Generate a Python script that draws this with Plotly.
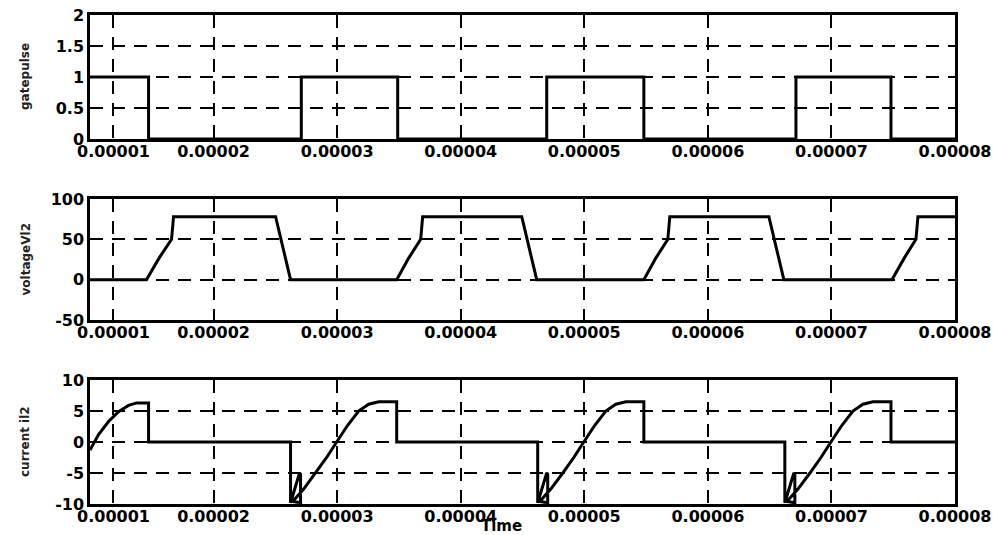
import plotly.graph_objects as go

T_SCALE = 1e-5  # time values below are in units of 1e-5 s

# ---- gate pulse ----
gate_t = [1.0, 1.474, 1.474, 2.71, 2.71, 3.49, 3.49, 4.696, 4.696, 5.482, 5.482,
          6.713, 6.713, 7.482, 7.482, 8.0]
gate_v = [1, 1, 0, 0, 1, 1, 0, 0, 1, 1, 0, 0, 1, 1, 0, 0]

# ---- voltage Vl2 ----
volt_t = [1.0, 1.457, 1.56, 1.66, 1.676, 2.502, 2.623, 3.482, 3.58, 3.676, 3.692,
          4.494, 4.615, 5.482, 5.58, 5.676, 5.692, 6.494, 6.615, 7.49, 7.59,
          7.684, 7.70, 8.0]
volt_v = [0, 0, 27, 50, 78, 78, 0, 0, 27, 50, 78, 78, 0, 0, 27, 50, 78, 78, 0, 0,
          27, 50, 78, 78]

# ---- current il2 ----
curr_t = [1.0, 1.069, 1.150, 1.231, 1.312, 1.377, 1.474, 1.474,
          2.623, 2.623, 2.696, 2.704, 2.704, 2.640, 2.729, 2.826, 2.915, 2.996,
          3.085, 3.174, 3.255, 3.336, 3.482, 3.482,
          4.623, 4.623, 4.696, 4.704, 4.704, 4.640, 4.729, 4.826, 4.915, 4.996,
          5.085, 5.174, 5.255, 5.336, 5.482, 5.482,
          6.623, 6.623, 6.696, 6.704, 6.704, 6.640, 6.729, 6.826, 6.915, 6.996,
          7.085, 7.174, 7.255, 7.336, 7.482, 7.482, 8.0]
curr_v = [-1.3, 1.2, 3.3, 4.9, 5.9, 6.3, 6.3, 0,
          0, -9.8, -5.0, -5.2, -9.8, -9.6, -7.6, -5.0, -2.5, 0.0,
          2.7, 5.0, 6.1, 6.5, 6.5, 0,
          0, -9.8, -5.0, -5.2, -9.8, -9.6, -7.6, -5.0, -2.5, 0.0,
          2.7, 5.0, 6.1, 6.5, 6.5, 0,
          0, -9.8, -5.0, -5.2, -9.8, -9.6, -7.6, -5.0, -2.5, 0.0,
          2.7, 5.0, 6.1, 6.5, 6.5, 0, 0]

x_tick_pos = [1.19, 2, 3, 4, 5, 6, 7, 8]
x_tick_text = ["0.00001", "0.00002", "0.00003", "0.00004", "0.00005", "0.00006",
               "0.00007", "0.00008"]

panels = [
    dict(t=gate_t, v=gate_v, rng=[0, 2], tv=[0, 0.5, 1, 1.5, 2],
         tt=["0", "0.5", "1", "1.5", "2"], title="gatepulse"),
    dict(t=volt_t, v=volt_v, rng=[-50, 100], tv=[-50, 0, 50, 100],
         tt=["-50", "0", "50", "100"], title="voltageVl2"),
    dict(t=curr_t, v=curr_v, rng=[-10, 10], tv=[-10, -5, 0, 5, 10],
         tt=["-10", "-5", "0", "5", "10"], title="current il2"),
]

W, H = 993, 535
y_domains_px = [(15, 139), (199, 320), (380, 504)]
x_dom = [90 / W, 955 / W]

fig = go.Figure()
tickfont = dict(family="DejaVu Sans", size=16, color="black", weight="bold")

for i, p in enumerate(panels):
    n = i + 1
    xa = "x" if n == 1 else f"x{n}"
    ya = "y" if n == 1 else f"y{n}"
    fig.add_trace(go.Scatter(
        x=[t * T_SCALE for t in p["t"]], y=p["v"], mode="lines",
        line=dict(color="black", width=3), xaxis=xa, yaxis=ya,
        showlegend=False, hoverinfo="skip"))
    top, bot = y_domains_px[i]
    ydom = [1 - bot / H, 1 - top / H]
    axkey = "" if n == 1 else str(n)
    fig.layout["xaxis" + axkey] = dict(
        domain=x_dom, range=[1e-5, 8e-5], anchor=ya, automargin=False,
        tickvals=[v * T_SCALE for v in x_tick_pos], ticktext=x_tick_text,
        tickfont=tickfont, ticks="", ticklabelstandoff=-4, showline=True,
        mirror=True, linecolor="black", linewidth=2.5, showgrid=True,
        gridcolor="black", gridwidth=2, griddash="13px,9px", zeroline=False)
    fig.layout["yaxis" + axkey] = dict(
        domain=ydom, range=p["rng"], anchor=xa, automargin=False,
        tickvals=p["tv"],
        ticktext=p["tt"], tickfont=tickfont, ticks="", showline=True,
        mirror=True, linecolor="black", linewidth=2.5, showgrid=True,
        gridcolor="black", gridwidth=2, griddash="13px,9px", zeroline=False)
    fig.add_annotation(
        text=p["title"], x=25 / W, y=1 - ((top + bot) / 2) / H, xref="paper",
        yref="paper", textangle=-90, showarrow=False, xanchor="center",
        yanchor="middle",
        font=dict(family="DejaVu Sans", size=12, color="#222", weight="bold"))

fig.add_annotation(text="Time", x=501 / W, y=1 - 526 / H, xref="paper",
                   yref="paper", showarrow=False, xanchor="center",
                   yanchor="middle",
                   font=dict(family="DejaVu Sans", size=15, color="black",
                             weight="bold"))

fig.update_layout(width=W, height=H, margin=dict(l=0, r=0, t=0, b=0, pad=0),
                  paper_bgcolor="white", plot_bgcolor="white")

fig.write_html("out.html")
